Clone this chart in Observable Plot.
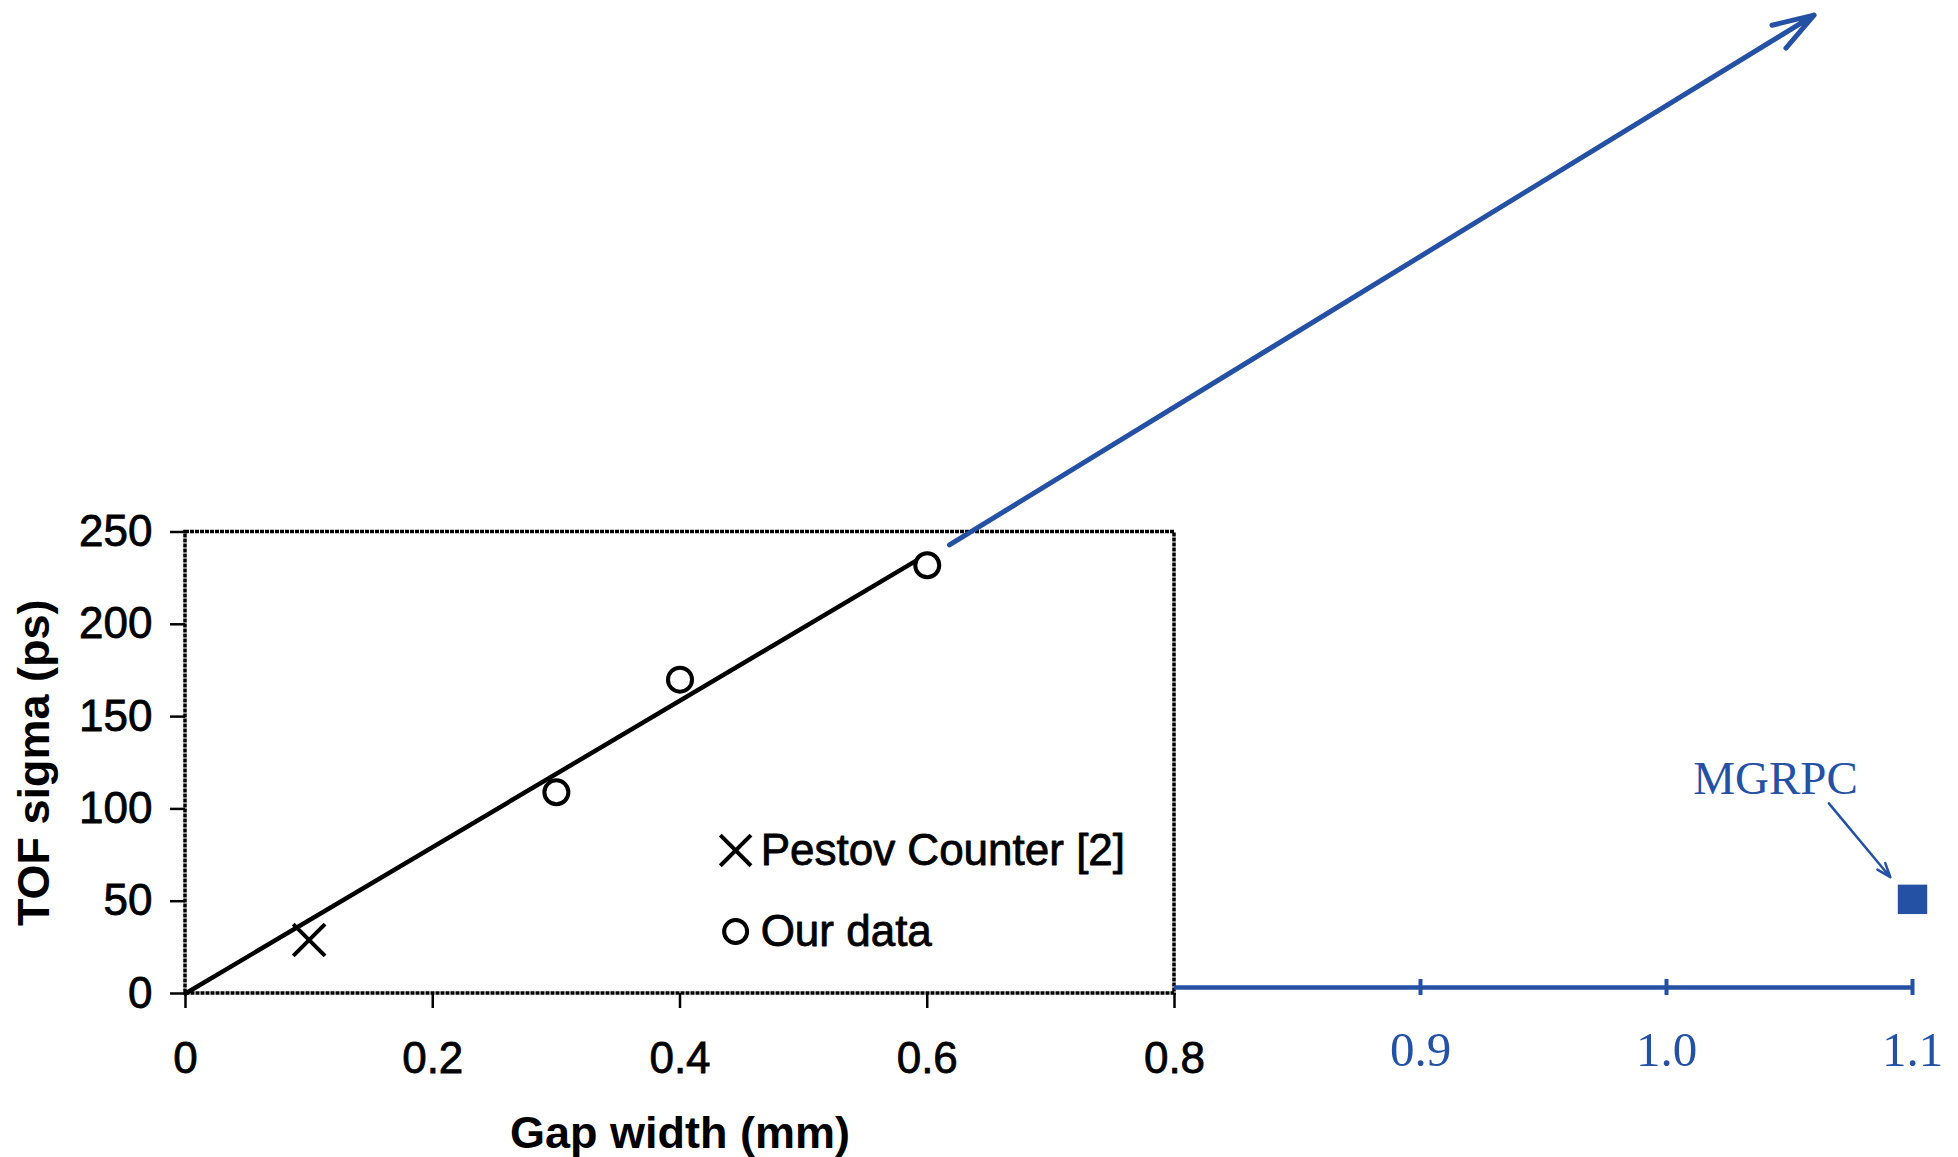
<!DOCTYPE html>
<html>
<head>
<meta charset="utf-8">
<script src="https://cdn.jsdelivr.net/npm/d3@7"></script>
<script src="https://cdn.jsdelivr.net/npm/@observablehq/plot@0.6"></script>
<style>
  html, body { margin: 0; padding: 0; background: #fff; }
  #chart svg { display: block; }
  #chart g[aria-label="y-axis tick label"],
  #chart g[aria-label="x-axis tick label"]:not([fill="#2451a4"]) { stroke: #000; stroke-width: 0.8px; }
</style>
</head>
<body>
<div id="chart"></div>
<script>
// ---- data ----
const ourGap = [0.3, 0.4, 0.6];          // mm
const ourSigma = [109, 170, 232];        // ps
const pestovGap = [0.1];
const pestovSigma = [29];
const fitGap = [0, 0.6];
const fitSigma = [0, 238];
const mgrpcGap = [1.1];
const mgrpcSigma = [51];
const xTicks = [0, 0.2, 0.4, 0.6, 0.8];
const xTickLabels = ["0", "0.2", "0.4", "0.6", "0.8"];
const yTicks = [0, 50, 100, 150, 200, 250];
const yTickLabels = ["0", "50", "100", "150", "200", "250"];
const extTicks = [0.9, 1.0, 1.1];
const extTickLabels = ["0.9", "1.0", "1.1"];
const trendGap = [0.618, 1.06];           // extrapolation arrow (start, end)
const trendSigma = [243, 530];
const calloutGap = [1.066, 1.091];        // MGRPC pointer (start, end)
const calloutSigma = [103, 63];
const legendLabels = ["Pestov Counter [2]", "Our data"];
const legendSymbols = ["times", "circle"];
const xLabel = "Gap width (mm)";
const yLabel = "TOF sigma (ps)";
const mgrpcLabel = "MGRPC";

// ---- tables built from the arrays ----
const ours = ourGap.map((g, i) => ({gap: g, sigma: ourSigma[i]}));
const pestov = pestovGap.map((g, i) => ({gap: g, sigma: pestovSigma[i]}));
const fit = fitGap.map((g, i) => ({gap: g, sigma: fitSigma[i]}));
const mgrpc = mgrpcGap.map((g, i) => ({gap: g, sigma: mgrpcSigma[i]}));
const trend = [{x1: trendGap[0], x2: trendGap[1], y1: trendSigma[0], y2: trendSigma[1]}];
const callout = [{x1: calloutGap[0], x2: calloutGap[1], y1: calloutSigma[0], y2: calloutSigma[1]}];
const panel = [{x1: xTicks[0], x2: xTicks[xTicks.length - 1], y1: yTicks[0], y2: yTicks[yTicks.length - 1]}];

// legend layout (inside the panel)
const legendRowY = [77.5, 33.6];
const legend = legendLabels.map((label, i) => ({label, symbol: legendSymbols[i], gap: 0.445, sigma: legendRowY[i]}));

const BLUE = "#2451a4";
const SANS = "'Liberation Sans', Arial, Helvetica, sans-serif";
const SERIF = "'Liberation Serif', 'Times New Roman', serif";

const fmt = (ticks, labels) => d => labels[ticks.findIndex(t => Math.abs(t - d) < 1e-9)];

const chart = Plot.plot({
  width: 1958,
  height: 1157,
  marginLeft: 185,
  marginRight: 46,
  marginTop: 0,
  marginBottom: 164,
  style: {fontFamily: SANS, fontSize: "44px", color: "#000", background: "#fff", overflow: "visible"},
  x: {type: "linear", domain: [0, 0.8, 1.1], range: [185, 1174, 1912]},
  y: {type: "linear", domain: [0, 250], range: [993, 531.5]},
  marks: [
    // original panel frame
    Plot.rect(panel, {x1: "x1", x2: "x2", y1: "y1", y2: "y2", fill: "none", stroke: "#000", strokeWidth: 3.5, strokeDasharray: "4 1"}),
    // black axes
    Plot.axisY({ticks: yTicks, tickFormat: fmt(yTicks, yTickLabels), tickSize: 15, tickPadding: 18, strokeWidth: 2.5, fontSize: 44, label: null}),
    Plot.axisX({ticks: xTicks, tickFormat: fmt(xTicks, xTickLabels), tickSize: 15, tickPadding: 33, strokeWidth: 2.5, fontSize: 44, label: null}),
    // blue extension of the x axis
    Plot.ruleY([0], {x1: 0.8, x2: 1.1, dy: -6, stroke: BLUE, strokeWidth: 4.5}),
    Plot.axisX({ticks: extTicks, tickFormat: fmt(extTicks, extTickLabels), tickSize: 16, dy: -14, tickPadding: 36, color: BLUE, strokeWidth: 4, fontFamily: SERIF, fontSize: 49, label: null}),
    // fit line and data
    Plot.line(fit, {x: "gap", y: "sigma", stroke: "#000", strokeWidth: 4.5}),
    Plot.dot(ours, {x: "gap", y: "sigma", symbol: "circle", r: 12, stroke: "#000", strokeWidth: 4, fill: "#fff"}),
    Plot.dot(pestov, {x: "gap", y: "sigma", symbol: "times", r: 14.5, stroke: "#000", strokeWidth: 4}),
    // legend
    Plot.dot(legend.filter(d => d.symbol === "times"), {x: "gap", y: "sigma", symbol: "times", r: 14, stroke: "#000", strokeWidth: 4}),
    Plot.dot(legend.filter(d => d.symbol === "circle"), {x: "gap", y: "sigma", symbol: "circle", r: 11.5, stroke: "#000", strokeWidth: 4, fill: "none"}),
    Plot.text(legend, {x: "gap", y: "sigma", text: "label", textAnchor: "start", dx: 25, fontSize: 44, fill: "#000", stroke: "#000", strokeWidth: 0.8}),
    // blue annotations
    Plot.arrow(trend, {x1: "x1", y1: "y1", x2: "x2", y2: "y2", stroke: BLUE, strokeWidth: 5, headAngle: 36, headLength: 13}),
    Plot.arrow(callout, {x1: "x1", y1: "y1", x2: "x2", y2: "y2", stroke: BLUE, strokeWidth: 2.5, headAngle: 40, headLength: 9}),
    Plot.dot(mgrpc, {x: "gap", y: "sigma", symbol: "square", r: 16.6, fill: BLUE}),
    Plot.text([mgrpcLabel], {x: 1.0443, y: 116, text: d => d, fill: BLUE, fontFamily: SERIF, fontSize: 47}),
    // axis titles
    Plot.text([xLabel], {x: 0.4, frameAnchor: "bottom", dy: 154, text: d => d, fontWeight: "bold", fontSize: 45, fill: "#000"}),
    Plot.text([{label: yLabel, gap: -0.1221, sigma: 125}], {x: "gap", y: "sigma", rotate: -90, text: "label", fontWeight: "bold", fontSize: 45, fill: "#000"})
  ]
});

document.getElementById("chart").appendChild(chart);
</script>
</body>
</html>
